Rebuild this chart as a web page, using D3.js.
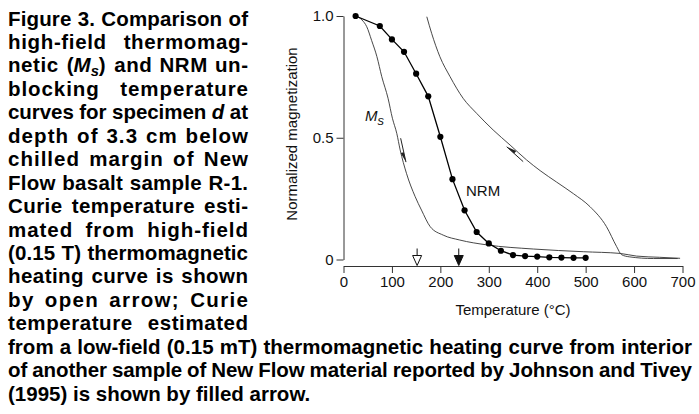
<!DOCTYPE html>
<html><head><meta charset="utf-8">
<script src="https://cdn.jsdelivr.net/npm/d3@7"></script>
<style>
html,body{margin:0;padding:0;background:#fff;}
svg{display:block;}
</style></head>
<body>
<svg id="chart" width="699" height="414"></svg>
<script>
// ---- data ----
const nrmT = [25,75,100,125,150,175,200,225,250,275,300,325,350,375,400,425,450,475,500];
const nrmM = [1.0,0.959,0.904,0.853,0.763,0.670,0.504,0.33,0.202,0.113,0.066,0.036,0.018,0.014,0.012,0.009,0.008,0.007,0.007];
const heatT = [25,38,48,58,69,79,92,101,110,117,130,148,161,179,206,240,296,392,495,571,605,653,695];
const heatM = [1.0,0.984,0.956,0.90,0.833,0.751,0.662,0.58,0.518,0.45,0.354,0.258,0.203,0.135,0.10,0.08,0.06,0.043,0.032,0.025,0.014,0.009,0.005];
const coolT = [172,182,199,220,247,275,309,344,378,406,440,475,509,543,564,574,590,640,690];
const coolM = [0.997,0.929,0.833,0.751,0.662,0.60,0.532,0.47,0.409,0.365,0.318,0.27,0.217,0.135,0.053,0.02,0.011,0.004,0.004];
const xTicks = [0,100,200,300,400,500,600,700];
const yTicks = [0,0.5,1.0];
const curieT = [152,238];
const curieFilled = [false,true];
const heatArrow = [[118,0.498],[129,0.40]];
const coolArrow = [[371,0.402],[337,0.463]];
const xTitle = "Temperature (°C)";
const yTitle = "Normalized magnetization";
const captionLines = [
 "Figure 3. Comparison of",
 "high-field thermomag-",
 "netic (*M*_s) and NRM un-",
 "blocking temperature",
 "curves for specimen *d* at",
 "depth of 3.3 cm below",
 "chilled margin of New",
 "Flow basalt sample R-1.",
 "Curie temperature esti-",
 "mated from high-field",
 "(0.15 T) thermomagnetic",
 "heating curve is shown",
 "by open arrow; Curie",
 "temperature estimated",
 "from a low-field (0.15 mT) thermomagnetic heating curve from interior",
 "of another sample of New Flow material reported by Johnson and Tivey",
 "(1995) is shown by filled arrow."
];

// ---- chart ----
const svg = d3.select("#chart");
const FONT = "'Liberation Sans', Arial, Helvetica, sans-serif";
const x = d3.scaleLinear().domain([0,700]).range([343.5,682.5]);
const y = d3.scaleLinear().domain([0,1]).range([259.5,16]);

const xAxis = svg.append("g").attr("transform","translate(0,266)")
  .call(d3.axisBottom(x).tickValues(xTicks).tickSize(7).tickSizeOuter(0).tickPadding(3).tickFormat(d3.format("d")));
const yAxis = svg.append("g").attr("transform","translate(343.5,0)")
  .call(d3.axisLeft(y).tickValues(yTicks).tickSize(7).tickSizeOuter(0).tickPadding(3)
    .tickFormat(d => d===0 ? "0" : d3.format(".1f")(d)));
[xAxis,yAxis].forEach(g=>{
  g.selectAll("text").attr("font-family",FONT).attr("font-size",15).attr("fill","#111");
  g.selectAll("line,path").attr("stroke","#333").attr("stroke-width",1);
});

svg.append("text").attr("x",513).attr("y",315).attr("text-anchor","middle")
  .attr("font-family",FONT).attr("font-size",15).attr("fill","#111").text(xTitle);
svg.append("text").attr("transform","translate(297,134) rotate(-90)").attr("text-anchor","middle")
  .attr("font-family",FONT).attr("font-size",15).attr("fill","#111").text(yTitle);

const line = d3.line().x(d=>x(d[0])).y(d=>y(d[1])).curve(d3.curveMonotoneX);
const heat = heatT.map((t,i)=>[t,heatM[i]]);
const cool = coolT.map((t,i)=>[t,coolM[i]]);
const nrm = nrmT.map((t,i)=>[t,nrmM[i]]);
svg.append("path").datum(heat).attr("d",line).attr("fill","none").attr("stroke","#333").attr("stroke-width",0.9);
svg.append("path").datum(cool).attr("d",line).attr("fill","none").attr("stroke","#333").attr("stroke-width",0.9);
svg.append("path").datum(nrm).attr("d",d3.line().x(d=>x(d[0])).y(d=>y(d[1])))
  .attr("fill","none").attr("stroke","#000").attr("stroke-width",1.3);
svg.selectAll("circle.nrm").data(nrm).join("circle").attr("class","nrm")
  .attr("cx",d=>x(d[0])).attr("cy",d=>y(d[1])).attr("r",3.1).attr("fill","#000");

// half arrows on curves
function halfArrow(pts){
  const [a,b] = pts.map(p=>[x(p[0]),y(p[1])]);
  const dx=b[0]-a[0], dy=b[1]-a[1], L=Math.hypot(dx,dy);
  const u=[dx/L,dy/L], n=[-u[1],u[0]];
  svg.append("line").attr("x1",a[0]).attr("y1",a[1]).attr("x2",b[0]).attr("y2",b[1])
    .attr("stroke","#222").attr("stroke-width",1);
  const h=10, w=3.2;
  const p = [b, [b[0]-h*u[0],b[1]-h*u[1]], [b[0]-h*u[0]+w*n[0], b[1]-h*u[1]+w*n[1]]];
  svg.append("path").attr("d","M"+p.map(q=>q.join(",")).join("L")+"Z").attr("fill","#222");
}
halfArrow(heatArrow);
halfArrow(coolArrow);

// Curie temperature arrows
curieT.forEach((t,i)=>{
  const cx = x(t);
  svg.append("line").attr("x1",cx).attr("x2",cx).attr("y1",248.5).attr("y2",256)
    .attr("stroke","#111").attr("stroke-width",1);
  svg.append("path").attr("d",`M${cx-4.5},255.5L${cx+4.5},255.5L${cx},265.5Z`)
    .attr("fill",curieFilled[i]?"#111":"#fff").attr("stroke","#111").attr("stroke-width",1);
});

// labels
const msLab = svg.append("text").attr("x",365).attr("y",121).attr("font-family",FONT)
  .attr("font-style","italic").attr("fill","#111");
msLab.append("tspan").attr("font-size",15).text("M");
msLab.append("tspan").attr("font-size",13).attr("dy",3.5).text("s");
svg.append("text").attr("x",466).attr("y",196).attr("font-family",FONT).attr("font-size",15)
  .attr("fill","#111").text("NRM");

// ---- caption (justified) ----
function parseWord(w){
  const parts = w.split(/(\*[^*]+\*|_[a-z])/).filter(s=>s.length);
  return parts.map(s=>{
    if (s[0]==="*") return {t:s.slice(1,-1),it:true,sub:false};
    if (s[0]==="_") return {t:s.slice(1),it:true,sub:true};
    return {t:s,it:false,sub:false};
  });
}
const CFS = 20.5, LH = 23.45, BASE0 = 25.5;
const cap = svg.append("g").attr("font-family",FONT).attr("font-weight","bold").attr("font-size",CFS).attr("fill","#000");
function makeWord(segs,xx,yy){
  const t = cap.append("text").attr("x",xx).attr("y",yy);
  let shifted=false;
  segs.forEach(s=>{
    const ts = t.append("tspan").text(s.t);
    if (s.it) ts.attr("font-style","italic");
    if (s.sub){ ts.attr("font-size",CFS*0.72).attr("dy",4); shifted=true; }
    else if (shifted){ ts.attr("dy",-4); shifted=false; }
  });
  return t;
}
const sp = cap.append("text").text("a a"); const sp2 = cap.append("text").text("aa");
const spaceW = sp.node().getComputedTextLength() - sp2.node().getComputedTextLength();
sp.remove(); sp2.remove();

captionLines.forEach((ln,i)=>{
  const yy = BASE0 + i*LH;
  const wide = i>=14;
  const x0 = 8, x1 = wide ? 692 : 248;
  const words = ln.split(" ").map(parseWord);
  const nodes = words.map(ws=>makeWord(ws,x0,yy));
  const widths = nodes.map(n=>n.node().getComputedTextLength());
  const chars = words.map(ws=>ws.reduce((s,q)=>s+q.t.length,0));
  const plain = words.map(ws=>ws.every(q=>!q.it && !q.sub));
  if (i === captionLines.length-1){
    let cx = x0;
    nodes.forEach((n,j)=>{ n.attr("x",cx); cx += widths[j]+spaceW; });
    return;
  }
  const natural = d3.sum(widths) + spaceW*(words.length-1);
  const extra = (x1-x0) - natural;
  const f = wide ? 0.25 : 0.5;
  const slots = d3.sum(chars, c=>c-1);
  const ls = f*extra/slots;
  const gap = spaceW + (1-f)*extra/(words.length-1);
  let cx = x0;
  nodes.forEach((n,j)=>{
    const w = widths[j] + ls*(chars[j]-1);
    if (chars[j]>1 && plain[j]) n.attr("textLength",w).attr("lengthAdjust","spacing");
    n.attr("x", plain[j] ? cx : cx + (w-widths[j])/2);
    cx += w + gap;
  });
});
</script>
</body></html>
